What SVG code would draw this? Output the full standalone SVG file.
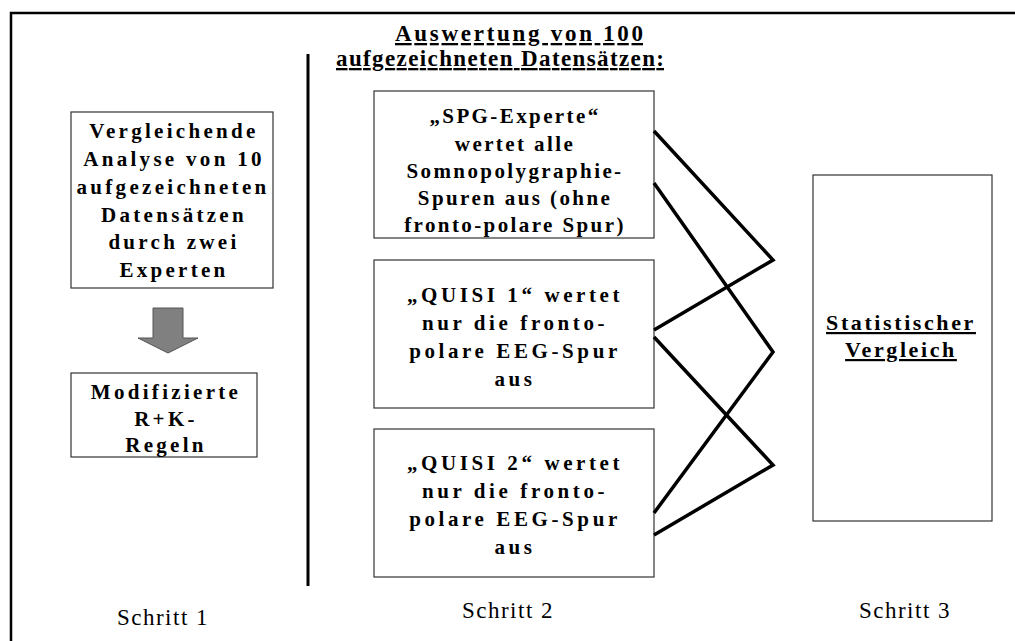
<svg xmlns="http://www.w3.org/2000/svg" width="1015" height="641" viewBox="0 0 1015 641">
<style>
.box{fill:#fff;stroke:#333;stroke-width:1.2}
.b{font-family:"Liberation Serif","Times New Roman",serif;font-weight:bold;font-size:21px;letter-spacing:3.3px;fill:#000;text-anchor:middle}
.h{font-family:"Liberation Serif","Times New Roman",serif;font-weight:bold;font-size:23px;fill:#000;text-anchor:middle;text-decoration:underline}
.s{font-family:"Liberation Serif","Times New Roman",serif;font-size:23px;letter-spacing:1.5px;fill:#000;text-anchor:middle}
.con{fill:none;stroke:#000;stroke-width:3.5;stroke-linejoin:miter}
</style>
<rect width="1015" height="641" fill="#fff"/>
<path d="M1016,13 H11 V642" fill="none" stroke="#000" stroke-width="2.5"/>
<line x1="308" y1="54" x2="308" y2="586" stroke="#000" stroke-width="3"/>
<g id="header">
<text class="h" x="519" y="41" textLength="248" lengthAdjust="spacing">Auswertung von 100</text>
<text class="h" x="500" y="66" textLength="328" lengthAdjust="spacing">aufgezeichneten Datensätzen:</text>
</g>
<g id="analyse">
<rect class="box" x="71" y="112" width="202" height="176"/>
<text class="b" x="174" y="138">Vergleichende</text>
<text class="b" x="174" y="166">Analyse von 10</text>
<text class="b" x="173" y="194">aufgezeichneten</text>
<text class="b" x="174" y="222">Datensätzen</text>
<text class="b" x="174" y="249">durch zwei</text>
<text class="b" x="174" y="277">Experten</text>
</g>
<g id="arrow">
<polygon points="153,308 183,308 183,338 198,338 168,353 138,338 153,338" fill="#808080" stroke="#555" stroke-width="1"/>
</g>
<g id="regeln">
<rect class="box" x="71" y="373" width="186" height="84"/>
<text class="b" x="166" y="399">Modifizierte</text>
<text class="b" x="166" y="426">R+K-</text>
<text class="b" x="166" y="452">Regeln</text>
</g>
<g id="spg">
<rect class="box" x="374" y="91" width="280" height="147"/>
<text class="b" x="515" y="123" style="letter-spacing:2.4px">„SPG-Experte“</text>
<text class="b" x="515" y="150.5" style="letter-spacing:2.4px">wertet alle</text>
<text class="b" x="515" y="178" style="letter-spacing:2.4px">Somnopolygraphie-</text>
<text class="b" x="515" y="205" style="letter-spacing:2.4px">Spuren aus (ohne</text>
<text class="b" x="515" y="232" style="letter-spacing:2.4px">fronto-polare Spur)</text>
</g>
<g id="quisi1">
<rect class="box" x="374" y="260" width="280" height="148"/>
<text class="b" x="515" y="302" style="letter-spacing:3.6px">„QUISI 1“ wertet</text>
<text class="b" x="515" y="330" style="letter-spacing:3.6px">nur die fronto-</text>
<text class="b" x="515" y="358" style="letter-spacing:3.6px">polare EEG-Spur</text>
<text class="b" x="515" y="386" style="letter-spacing:3.6px">aus</text>
</g>
<g id="quisi2">
<rect class="box" x="374" y="429" width="280" height="148"/>
<text class="b" x="515" y="470" style="letter-spacing:3.6px">„QUISI 2“ wertet</text>
<text class="b" x="515" y="498" style="letter-spacing:3.6px">nur die fronto-</text>
<text class="b" x="515" y="526" style="letter-spacing:3.6px">polare EEG-Spur</text>
<text class="b" x="515" y="554" style="letter-spacing:3.6px">aus</text>
</g>
<g id="statistik">
<rect class="box" x="813" y="175" width="179" height="346"/>
<text class="b" x="901" y="330" style="letter-spacing:2.6px;font-size:22px;text-decoration:underline">Statistischer</text>
<text class="b" x="901" y="357" style="letter-spacing:2.6px;font-size:22px;text-decoration:underline">Vergleich</text>
</g>
<g id="connectors">
<polyline class="con" points="654,131 773,260 654,330"/>
<polyline class="con" points="654,183 773,352 654,513"/>
<polyline class="con" points="654,337 773,465 654,535"/>
</g>
<g id="labels">
<text class="s" x="163" y="625">Schritt 1</text>
<text class="s" x="508" y="618">Schritt 2</text>
<text class="s" x="905" y="618">Schritt 3</text>
</g>
</svg>
